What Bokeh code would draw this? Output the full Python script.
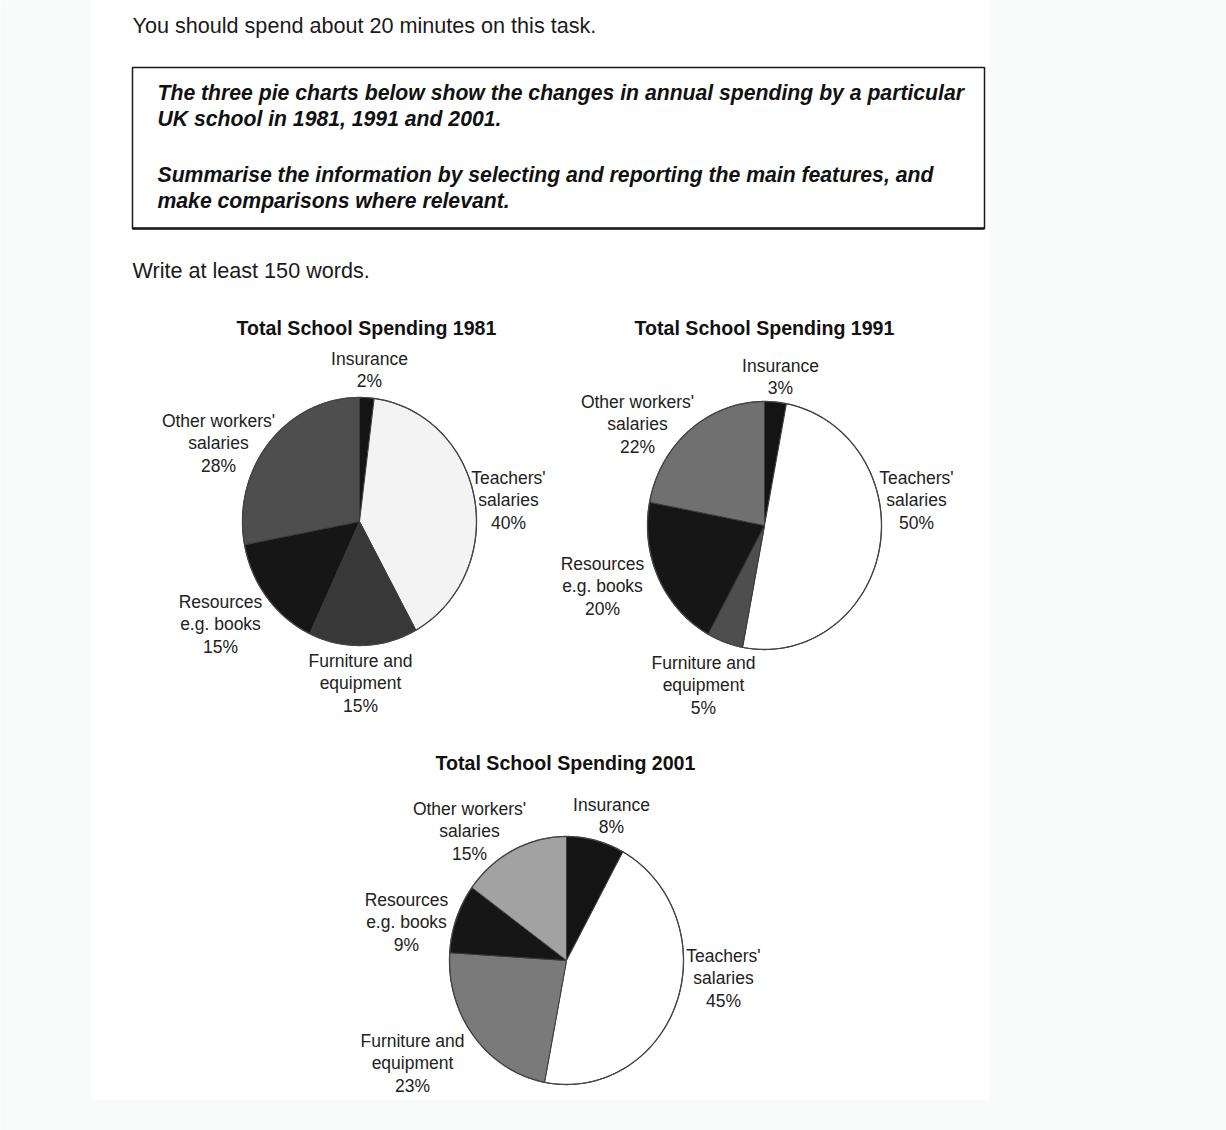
import numpy as np
from bokeh.plotting import figure
from bokeh.models import Range1d, ColumnDataSource
from bokeh.embed import file_html
from bokeh.resources import INLINE
from bokeh.core.properties import value

# ---------------- data ----------------
categories = ["Insurance", "Teachers' salaries", "Furniture and equipment",
              "Resources e.g. books", "Other workers' salaries"]
category_lines = [["Insurance"], ["Teachers'", "salaries"], ["Furniture and", "equipment"],
                  ["Resources", "e.g. books"], ["Other workers'", "salaries"]]
years = ["1981", "1991", "2001"]
spending_1981 = [2, 40, 15, 15, 28]
spending_1991 = [3, 50, 5, 20, 22]
spending_2001 = [8, 45, 23, 9, 15]
chart_titles = ["Total School Spending 1981", "Total School Spending 1991", "Total School Spending 2001"]

intro_text = "You should spend about 20 minutes on this task."
task_lines = ["The three pie charts below show the changes in annual spending by a particular",
              "UK school in 1981, 1991 and 2001.",
              "Summarise the information by selecting and reporting the main features, and",
              "make comparisons where relevant."]
footer_text = "Write at least 150 words."

# ---------------- layout / styles ----------------
W, H = 1226, 1130
FONT = "Liberation Sans"
pie_centers = [(359, 521), (764, 525), (566, 960)]
pie_rx, pie_ry = 117, 124
title_pos = [(366, 327), (764, 327), (565, 762)]
# first-line positions of each label, per chart, in category order
label_pos = [
    [(369, 358), (508, 477), (360, 660), (220, 601), (218, 420)],
    [(780, 365), (916, 477), (703, 662), (602, 563), (637, 401)],
    [(611, 804), (723, 955), (412, 1040), (406, 899), (469, 808)],
]
line_gap = 22.5
slice_colors = [
    ["#141414", "#f3f3f3", "#383838", "#161616", "#4e4e4e"],
    ["#141414", "#ffffff", "#4e4e4e", "#161616", "#707070"],
    ["#141414", "#ffffff", "#7a7a7a", "#161616", "#a2a2a2"],
]

p = figure(width=W, height=H, x_range=Range1d(0, W), y_range=Range1d(H, 0),
           output_backend="svg", toolbar_location=None, min_border=0)
p.axis.visible = False
p.grid.visible = False
p.outline_line_color = None
p.background_fill_color = "#f9fafa"
p.border_fill_color = "#f9fafa"

# page
p.quad(left=[91], right=[989], top=[0], bottom=[1099], fill_color="white", line_color=None)

# header texts
p.text(x=[132], y=[25], text=[intro_text], text_font=value(FONT), text_font_size="21.6px",
       text_baseline="middle", text_align="left", text_color="#1a1a1a")
p.quad(left=[132], right=[984], top=[67], bottom=[228], fill_color=None,
       line_color="#1a1a1a", line_width=1.5)
p.segment(x0=[132], y0=[228], x1=[984], y1=[228], line_color="#1a1a1a", line_width=2.5)
task_y = [92, 118, 174, 200]
p.text(x=[157] * 4, y=task_y, text=task_lines, text_font=value(FONT), text_font_size="21.2px",
       text_font_style="bold italic", text_baseline="middle", text_align="left", text_color="#111111")
p.text(x=[132], y=[270], text=[footer_text], text_font=value(FONT), text_font_size="21.6px",
       text_baseline="middle", text_align="left", text_color="#1a1a1a")

# pies
all_values = [spending_1981, spending_1991, spending_2001]
for k, vals in enumerate(all_values):
    cx, cy = pie_centers[k]
    total = float(sum(vals))
    cum = np.concatenate([[0.0], np.cumsum(vals) / total])
    xs, ys = [], []
    for i in range(len(vals)):
        t = np.linspace(cum[i] * 2 * np.pi, cum[i + 1] * 2 * np.pi, 120)
        xs.append([cx] + list(cx + pie_rx * np.sin(t)))
        ys.append([cy] + list(cy - pie_ry * np.cos(t)))
    src = ColumnDataSource(dict(xs=xs, ys=ys, color=slice_colors[k], cat=categories))
    p.patches("xs", "ys", source=src, fill_color="color", line_color="#3a3a3a", line_width=1.0)
    # outline
    t = np.linspace(0, 2 * np.pi, 360)
    p.line(x=cx + pie_rx * np.sin(t), y=cy - pie_ry * np.cos(t), line_color="#444444", line_width=1.3)

    # title
    tx, ty = title_pos[k]
    p.text(x=[tx], y=[ty], text=[chart_titles[k]], text_font=value(FONT), text_font_size="19.6px",
           text_font_style="bold", text_align="center", text_baseline="middle", text_color="#111111")
    # labels
    lx, ly, lt = [], [], []
    for i, v in enumerate(vals):
        x0, y0 = label_pos[k][i]
        lines = category_lines[i] + [f"{v}%"]
        for j, s in enumerate(lines):
            lx.append(x0)
            ly.append(y0 + j * line_gap)
            lt.append(s)
    p.text(x=lx, y=ly, text=lt, text_font=value(FONT), text_font_size="17.5px",
           text_align="center", text_baseline="middle", text_color="#222222")

open("out.html", "w").write(file_html(p, INLINE))
